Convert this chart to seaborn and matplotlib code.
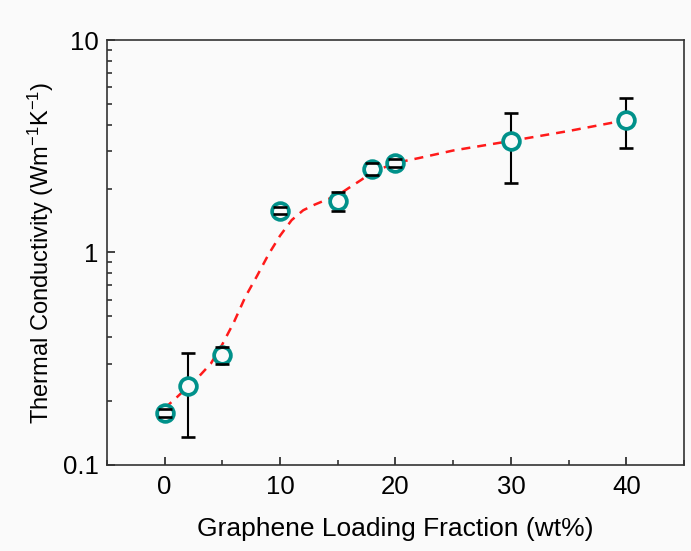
import matplotlib
matplotlib.use("Agg")
import matplotlib.pyplot as plt
import numpy as np
import pandas as pd
import seaborn as sns
from matplotlib.ticker import FixedLocator, FixedFormatter, LogLocator, NullFormatter, MultipleLocator

# measured points
loading = [0, 2, 5, 10, 15, 18, 20, 30, 40]
conductivity = [0.176, 0.235, 0.33, 1.57, 1.75, 2.47, 2.64, 3.35, 4.2]
err_low = [0.008, 0.100, 0.03, 0.06, 0.18, 0.15, 0.12, 1.23, 1.10]
err_high = [0.008, 0.102, 0.03, 0.06, 0.18, 0.17, 0.12, 1.18, 1.13]

# dashed guide line
fit_x = [0, 1, 2, 3, 4, 5, 6, 7, 8, 9, 10, 11, 12, 13, 14, 15, 16, 17, 18, 20, 22, 25, 30, 35, 40]
fit_y = [0.185, 0.207, 0.233, 0.262, 0.30, 0.37, 0.47, 0.62, 0.775, 0.98, 1.2, 1.42, 1.58, 1.68,
         1.77, 1.86, 2.02, 2.19, 2.39, 2.64, 2.78, 3.02, 3.35, 3.73, 4.2]

x_ticks = [0, 10, 20, 30, 40]
y_ticks = [0.1, 1, 10]
y_tick_labels = ["0.1", "1", "10"]

sns.set_style("ticks")
plt.rcParams["font.family"] = ["Liberation Sans", "DejaVu Sans"]
plt.rcParams["mathtext.fontset"] = "custom"
plt.rcParams["mathtext.rm"] = "Liberation Sans"
plt.rcParams["mathtext.it"] = "Liberation Sans"

fig = plt.figure(figsize=(6.91, 5.51), dpi=100, facecolor="#fafafa")
ax = fig.add_axes([0.1548, 0.1561, 0.8351, 0.7713])
ax.set_facecolor("#fafafa")

df = pd.DataFrame({"x": loading, "y": conductivity})
fit_df = pd.DataFrame({"x": fit_x, "y": fit_y})

sns.lineplot(data=fit_df, x="x", y="y", ax=ax, color="#ff1a1a", lw=1.8,
             linestyle=(0, (3.6, 2.8)), zorder=1)

eb = ax.errorbar(loading, conductivity, yerr=[err_low, err_high], fmt="none",
                 ecolor="black", elinewidth=1.5, capsize=5, capthick=1.9, zorder=2)
for cap in eb[1]:
    cap.set_zorder(4)

sns.scatterplot(data=df, x="x", y="y", ax=ax, s=145, marker="o",
                facecolor="#fafafa", edgecolor="#00918a", linewidth=2.7, zorder=3)

ax.set_yscale("log")
ax.set_xlim(-5, 45)
ax.set_ylim(0.1, 10)

ax.xaxis.set_major_locator(FixedLocator(x_ticks))
ax.xaxis.set_minor_locator(MultipleLocator(5))
ax.yaxis.set_major_locator(FixedLocator(y_ticks))
ax.yaxis.set_major_formatter(FixedFormatter(y_tick_labels))
ax.yaxis.set_minor_locator(LogLocator(base=10, subs=np.arange(2, 10)))
ax.yaxis.set_minor_formatter(NullFormatter())

ax.tick_params(which="major", direction="in", length=6, width=1.2, labelsize=18.5,
               color="#222222", labelcolor="black")
ax.tick_params(which="minor", direction="in", length=3.5, width=1.1, color="#222222")
ax.tick_params(axis="x", pad=7)
ax.tick_params(axis="y", pad=6)

for side in ["top", "right", "left", "bottom"]:
    ax.spines[side].set_visible(True)
    ax.spines[side].set_linewidth(1.2)
    ax.spines[side].set_color("#333333")

ax.set_xlabel("Graphene Loading Fraction (wt%)", fontsize=19, labelpad=13, color="black")
ax.set_ylabel("Thermal Conductivity (Wm$^{-1}$K$^{-1}$)", fontsize=17, labelpad=5, color="black")

fig.savefig("out.png", dpi=100, facecolor=fig.get_facecolor())
